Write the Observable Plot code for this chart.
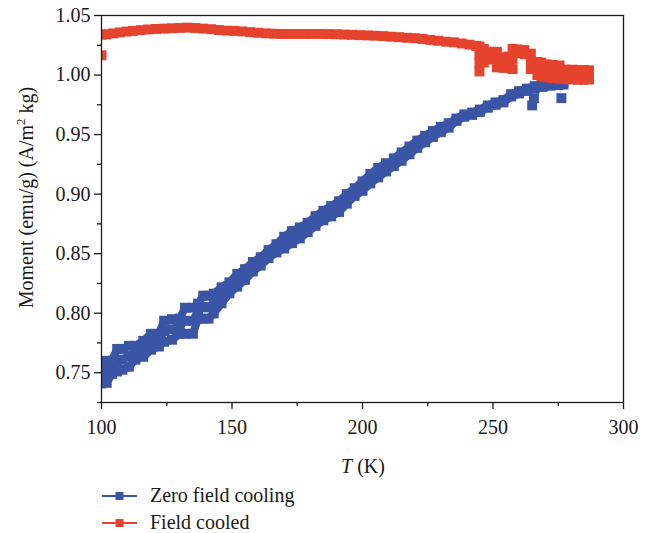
<!DOCTYPE html>
<html><head><meta charset="utf-8">
<script src="https://cdn.jsdelivr.net/npm/d3@7"></script>
<script src="https://cdn.jsdelivr.net/npm/@observablehq/plot@0.6"></script>
<style>
body{margin:0;background:#fff;}
#legend{font-family:"Liberation Serif",serif;font-size:20px;color:#1a1a1a;}
.row{display:flex;align-items:center;height:27px;padding-left:102px;}
.row svg{margin-right:12px;}
</style></head><body>
<div id="chart"></div>
<div id="legend"></div>
<script>
const xTicks = [100, 150, 200, 250, 300];
const xMinor = [125, 175, 225, 275];
const yTicks = [0.75, 0.80, 0.85, 0.90, 0.95, 1.00, 1.05];
const yMinor = [0.725, 0.775, 0.825, 0.875, 0.925, 0.975, 1.025];
const seriesNames = ["Zero field cooling", "Field cooled"];
const seriesColors = ["#3a55a5", "#e6432f"];

// Zero field cooling: [T (K), moment]
const zfcPoints = [
  [100,.741],[100,.7485],[100,.756],
  [102,.7415],[102,.751],[102,.760],
  [104,.749],[104,.7545],[104,.760],
  [106,.751],[106,.7605],[106,.770],
  [108,.7525],[108,.761],[108,.770],
  [110.5,.755],[110.5,.764],[110.5,.7726],
  [113,.761],[113,.767],[113,.7726],
  [116,.7634],[116,.770],[116,.7768],
  [119,.7693],[119,.776],[119,.7827],
  [122,.772],[122,.777],[122,.7827],
  [124,.776],[124,.785],[124,.7937],
  [127,.7777],[127,.7865],[127,.795],
  [130,.7827],[130,.789],[130,.7954],
  [132,.7827],[132,.7936],[132,.8046],
  [135,.7827],[135,.7936],[135,.8046],
  [137,.7954],[137,.8017],[137,.808],
  [139,.7954],[139,.805],[139,.8147],
  [141,.7954],[141,.805],[141,.8147],
  [143,.7998],[143,.808],[143,.8164],
  [146,.8083],[146,.815],[146,.8217],
  [149,.8167],[149,.821],[149,.8259],
  [152,.8223],[152,.8277],[152,.833],
  [155,.828],[155,.8325],[155,.837],
  [158,.835],[158,.839],[158,.843],
  [161,.840],[161,.8435],[161,.847],
  [164,.8463],[164,.8497],[164,.853],
  [167,.851],[167,.8545],[167,.858],
  [170,.8543],[170,.859],[170,.8642],
  [173,.8588],[173,.864],[173,.869],
  [176,.8628],[176,.8675],[176,.872],
  [179,.868],[179,.872],[179,.876],
  [182,.8733],[182,.8775],[182,.8815],
  [185,.878],[185,.882],[185,.886],
  [188,.8813],[188,.8857],[188,.890],
  [191,.885],[191,.8895],[191,.894],
  [194,.892],[194,.896],[194,.900],
  [197,.8985],[197,.9017],[197,.905],
  [200,.9028],[200,.9068],[200,.9107],
  [203,.909],[203,.913],[203,.917],
  [206,.914],[206,.918],[206,.922],
  [209,.919],[209,.9225],[209,.926],
  [212,.9235],[212,.930],
  [215,.928],[215,.935],
  [218,.9335],[218,.940],
  [221,.9388],[221,.945],
  [224,.9435],[224,.949],
  [227,.948],[227,.953],
  [230,.952],[230,.9565],
  [233,.9558],[233,.9595],
  [236,.9615],[236,.9635],
  [239,.965],[239,.967],
  [242,.9665],[242,.9685],
  [245,.969],[245,.971],
  [248,.9725],[248,.9745],
  [251,.975],[251,.977],
  [254,.977],[254,.979],
  [257,.982],[257,.984],
  [260,.9845],[260,.9865],
  [263,.9866],[263,.9886],
  [266,.9887],[266,.9907],
  [269,.990],[269,.992],
  [272,.991],[272,.993],
  [275,.9915],[275,.9935],
  [277,.992],[277,.994]
];
const zfcOutliers = [[265,.9745],[265.7,.9805],[276.2,.9806]];

// Field cooled: [T (K), moment] — smooth part
const fcPoints = [
  [100,1.0338],[102,1.0343],[104.5,1.035],[107,1.0358],[109.5,1.0365],[112,1.037],
  [115,1.0377],[118,1.0383],[121,1.0387],[124,1.039],[127,1.0393],[130,1.0396],
  [133,1.0398],[136,1.0395],[139,1.039],[142,1.0385],[145,1.0378],[148,1.0373],
  [151,1.037],[154,1.0366],[157,1.036],[160,1.0355],[163,1.035],[166,1.0347],
  [169,1.0345],[172,1.0345],[175,1.0345],[178,1.0345],[181,1.0345],[184,1.0345],
  [187,1.0344],[190,1.0343],[193,1.034],[196,1.0338],[199,1.0335],[202,1.0333],
  [205,1.033],[208,1.0327],[211,1.0322],[214,1.0318],[217,1.0313],[220,1.031],
  [223,1.0303],[226,1.0295],[229,1.0288],[232,1.028],[235,1.0275],[238,1.0265],
  [241,1.0255],[243.5,1.0245]
];
// Field cooled: scattered part above 244 K
const fcScatter = [
  [244.8,1.024],[244.8,1.017],[244.8,1.010],[244.8,1.003],
  [246.5,1.022],[246.5,1.016],[246.5,1.0105],
  [249,1.0195],[249,1.013],
  [251.5,1.0195],[251.5,1.0125],[251.5,1.0065],
  [254,1.015],[254,1.0105],[254,1.006],
  [256,1.0155],[256,1.0105],[256,1.006],
  [257.5,1.022],[257.5,1.0135],[257.5,1.005],
  [259.5,1.0215],[259.5,1.0185],
  [262,1.021],[262,1.0175],
  [264.5,1.018],[264.5,1.0115],[264.5,1.005],
  [267,1.011],[267,1.0055],[267,1.0],
  [268.5,1.0105],[268.5,1.005],[268.5,0.999],
  [270.5,1.009],[270.5,1.0035],[270.5,0.998],
  [273,1.0085],[273,1.003],[273,0.9975],
  [275.5,1.008],[275.5,1.0025],[275.5,0.997],
  [278,1.0045],[278,1.0005],[278,0.9965],
  [280.3,1.0045],[280.3,1.0003],[280.3,0.9963],
  [282.6,1.0043],[282.6,1.0],[282.6,0.996],
  [284.8,1.0043],[284.8,1.0],[284.8,0.996],
  [286.8,1.004],[286.8,1.0],[286.8,0.9963]
];
const fcOutliers = [[100,1.0166]];

// rows: tag each point by its rank within its temperature column
function toRows(arr, s) {
  const seen = new Map();
  return arr.map(([t, m]) => {
    const k = seen.get(t) || 0;
    seen.set(t, k + 1);
    return {t, m, s, row: s + "-" + k};
  });
}
const bandData = [...toRows(zfcPoints, seriesNames[0]), ...toRows(fcPoints, seriesNames[1])];
const dotData = [
  ...bandData,
  ...toRows(zfcOutliers, seriesNames[0]),
  ...toRows(fcScatter, seriesNames[1]),
  ...toRows(fcOutliers, seriesNames[1])
];

const FONT = "'Liberation Serif', 'DejaVu Serif', serif";
const INK = "#1a1a1a";

const plot = Plot.plot({
  width: 649,
  height: 482,
  marginTop: 15,
  marginBottom: 80,
  marginLeft: 101,
  marginRight: 26,
  style: {fontFamily: FONT, fontSize: "20px", color: INK, background: "white", overflow: "visible"},
  x: {domain: [100, 300], label: null},
  y: {domain: [0.725, 1.05], label: null},
  color: {domain: seriesNames, range: seriesColors},
  marks: [
    Plot.line(bandData, {x: "t", y: "m", z: "row", stroke: "s", strokeWidth: 8, clip: true}),
    Plot.dot(dotData, {x: "t", y: "m", fill: "s", symbol: "square", r: 5.6, clip: true}),
    Plot.frame({stroke: INK, strokeWidth: 1.3}),
    Plot.axisX({ticks: xTicks, tickSize: 7, tickPadding: 10, strokeWidth: 1.3, label: null, fontSize: 20, tickFormat: d3.format("d")}),
    Plot.axisX({ticks: xMinor, tickSize: 4, strokeWidth: 1.3, label: null, tickFormat: () => ""}),
    Plot.axisY({ticks: yTicks, tickSize: 7, tickPadding: 4, strokeWidth: 1.3, label: null, fontSize: 20, tickFormat: d3.format(".2f")}),
    Plot.axisY({ticks: yMinor, tickSize: 4, strokeWidth: 1.3, label: null, tickFormat: () => ""})
  ]
});
document.getElementById("chart").appendChild(plot);

const svg = d3.select(plot);
// y-axis title
const yl = svg.append("text")
  .attr("transform", "translate(33,197.5) rotate(-90)")
  .attr("text-anchor", "middle")
  .attr("fill", INK)
  .style("font-family", FONT)
  .style("font-size", "20px");
yl.append("tspan").text("Moment (emu/g) (A/m");
yl.append("tspan").attr("dy", -8).style("font-size", "13px").text("2");
yl.append("tspan").attr("dy", 8).text(" kg)");
// x-axis title
const xl = svg.append("text")
  .attr("x", 363).attr("y", 473)
  .attr("text-anchor", "middle")
  .attr("fill", INK)
  .style("font-family", FONT)
  .style("font-size", "20px");
xl.append("tspan").style("font-style", "italic").text("T");
xl.append("tspan").text(" (K)");

// legend
const legend = d3.select("#legend");
seriesNames.forEach((name, i) => {
  const row = legend.append("div").attr("class", "row");
  const sw = row.append("svg").attr("width", 36).attr("height", 10);
  sw.append("line").attr("x1", 0).attr("x2", 35).attr("y1", 5).attr("y2", 5)
    .attr("stroke", seriesColors[i]).attr("stroke-width", 2);
  sw.append("rect").attr("x", 13.5).attr("y", 1).attr("width", 8).attr("height", 8)
    .attr("fill", seriesColors[i]);
  row.append("span").text(name);
});
</script>
</body></html>
